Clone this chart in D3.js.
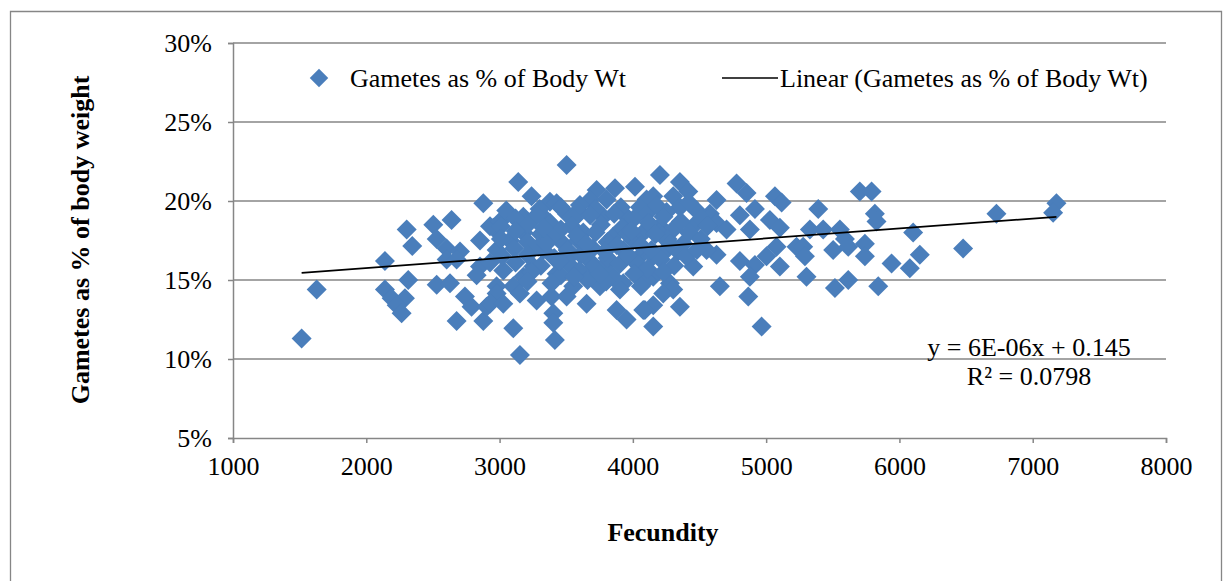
<!DOCTYPE html>
<html><head><meta charset="utf-8">
<script src="https://cdn.jsdelivr.net/npm/d3@7"></script>
<style>
html,body{margin:0;padding:0;background:#fff;}
svg text{font-family:"Liberation Serif","Times New Roman",serif !important;fill:#000;}
</style></head>
<body><svg id="c" width="1224" height="581"></svg>
<script>
// Data: [fecundity, gametes as % of body weight]
const fecundity = [
2878,2303,2503,2640,2528,2345,2603,2703,2853,2953,2140,2603,2678,2853,2828,2978,1628,1515,2140,2315,2528,2628,2190,2290,2228,2265,2740,2790,2678,2878,2903,2978,
3503,3140,3240,3378,3428,3728,3866,4016,3803,4103,3678,3603,2928,3003,3078,2928,3178,3353,3503,3590,3778,3953,4053,4003,4078,3778,3678,3828,3928,3428,3253,3178,3103,2978,2928,3028,3153,3278,3390,3503,3653,3403,3403,3103,3415,3153,3878,3953,4090,3903,3553,3753,3328,3478,3628,3853,3178,3028,3528,3928,4053,
4203,4353,4416,4303,4153,4628,4778,4853,5066,4916,4803,4578,4478,4353,4253,4103,4103,4203,4303,4453,4628,4703,4878,5028,5103,5228,5078,5003,5103,4803,4916,4878,4628,4453,4553,4378,4253,4153,4053,4153,4278,4303,4103,4653,4866,4353,4228,4153,4078,4153,4966,5116,
5703,5791,5391,5816,5828,5328,5428,5553,5591,5278,5291,5503,5616,5741,5741,6103,5941,6078,6153,6478,5303,5516,5616,5841,
6728,7178,7153,
3050,3300,3460,3720,3910,4180,4420,
3120,3280,3560,3680,3860,4010,4230,4520,
3010,3210,3380,3540,3760,3920,4120,4360,4560,
3120,3310,3460,3720,3960,4220,4420,
3010,3210,3390,3590,3810,4060,4260,4510,
3110,3290,3510,3700,3880,4140,4340,
3020,3210,3410,3610,3810,4010,4210,4400,
3120,3310,3520,3700,3900,4110,4310,
3240,3460,3600,3860,4010,4230,
3210,3390,3660,3800,4060,
3350,3580,3790,3990,4280,3450,3650,3960,4170,4480,3330,3560,3750
];
const gametesPct = [
19.86,18.2,18.5,18.8,17.6,17.15,17.0,16.8,17.5,18.3,16.2,16.3,16.3,15.85,15.3,16.9,14.4,11.3,14.4,15.0,14.7,14.8,13.85,13.85,13.4,12.9,13.95,13.3,12.4,12.4,13.3,14.6,
22.28,21.2,20.3,19.96,19.86,20.7,20.8,20.9,20.1,20.1,20.06,19.75,18.4,18.7,17.5,16.1,19.0,18.8,19.2,19.4,19.0,19.0,19.6,17.5,18.0,15.85,16.2,15.4,14.8,15.4,15.85,15.2,14.6,14.15,13.5,13.5,14.15,13.7,13.95,13.95,13.5,12.9,12.3,11.95,11.2,10.25,13.1,12.5,13.1,14.4,14.6,14.6,16.9,17.3,18.0,17.75,18.0,15.6,16.5,16.9,16.5,
21.65,21.2,20.6,20.3,20.3,20.06,21.1,20.5,20.3,19.5,19.1,19.2,19.4,19.6,19.3,19.2,18.2,18.4,18.2,18.4,18.6,18.2,18.2,18.8,18.3,17.1,17.1,16.5,15.85,16.2,15.95,15.2,16.6,15.85,16.9,17.3,16.9,16.5,15.85,15.2,14.8,14.4,15.0,14.6,13.95,13.3,14.15,13.4,13.1,12.05,12.05,19.9,
20.6,20.6,19.5,19.2,18.7,18.2,18.2,18.2,17.6,17.1,16.5,16.9,17.1,17.3,16.5,18.0,16.05,15.75,16.6,17.0,15.2,14.5,15.0,14.6,
19.2,19.85,19.26,
19.4,19.5,19.6,19.5,19.6,19.7,19.9,
18.9,19.1,18.9,19.1,19.2,18.9,19.0,18.9,
18.4,18.5,18.6,18.4,18.5,18.3,18.6,18.7,18.4,
18.1,17.9,18.2,18.0,17.9,17.8,18.0,
17.6,17.4,17.7,17.5,17.4,17.2,17.6,17.6,
17.0,17.1,16.9,17.0,17.2,16.9,16.8,
16.5,16.6,16.4,16.6,16.4,16.2,16.3,16.5,
16.1,15.9,16.0,15.8,16.0,15.7,15.9,
15.5,15.3,15.6,15.1,15.4,15.5,
14.9,14.8,15.0,14.9,14.6,
17.3,17.8,16.8,18.1,17.3,16.2,17.3,16.6,17.9,16.9,18.3,15.2,15.4
];
const xTicks = [1000,2000,3000,4000,5000,6000,7000,8000];
const yTicks = [0.05,0.10,0.15,0.20,0.25,0.30];
const trendSlope = 6.25e-6, trendIntercept = 0.1451;
const seriesName = "Gametes as % of Body Wt";
const trendName = "Linear (Gametes as % of Body Wt)";
const eqText = ["y = 6E-06x + 0.145", "R² = 0.0798"];
const xTitle = "Fecundity", yTitle = "Gametes as % of body weight";

const points = fecundity.map((f,i)=>({x:f, y:gametesPct[i]/100}));
const svg = d3.select("#c");
const L=233, T=43, R=1166, B=438;
const x = d3.scaleLinear().domain([1000,8000]).range([L,R]);
const y = d3.scaleLinear().domain([0.05,0.30]).range([B,T]);
const grey="#868686", blue="#4a7ebb";
const serif = '"Liberation Serif","Times New Roman",serif';

// outer border
svg.append("path").attr("d","M10.5,600 V11.5 H1221.5 V600").attr("fill","none").attr("stroke",grey).attr("stroke-width",1.3);

// gridlines
svg.append("g").selectAll("line").data(yTicks.filter(d=>d>0.05)).join("line")
  .attr("x1",L).attr("x2",R).attr("y1",d=>y(d)).attr("y2",d=>y(d))
  .attr("stroke",grey).attr("stroke-width",1.5);

// axes
const yAxis = d3.axisLeft(y).tickValues(yTicks).tickFormat(d=>Math.round(d*100)+"%").tickSize(5).tickPadding(16);
const gy = svg.append("g").attr("transform",`translate(${L},0)`).call(yAxis);
const xAxis = d3.axisBottom(x).tickValues(xTicks).tickFormat(d3.format("d")).tickSize(5).tickPadding(12);
const gx = svg.append("g").attr("transform",`translate(0,${B})`).call(xAxis);
[gx,gy].forEach(g=>{
  g.attr("font-family",serif).attr("font-size",26);
  g.select(".domain").attr("stroke",grey).attr("stroke-width",1.5);
  g.selectAll(".tick line").attr("stroke",grey).attr("stroke-width",1.5);
  g.selectAll(".tick text").style("font-family",serif).style("font-size","26px").attr("fill","#000");
});
gy.selectAll(".tick text").attr("dy","0.34em");
gx.selectAll(".tick text").attr("dy","0.76em");

// points
const sym = d3.symbol().type(d3.symbolSquare).size(200);
svg.append("g").selectAll("path").data(points).join("path")
  .attr("d",sym)
  .attr("transform",d=>`translate(${x(d.x)},${y(d.y)}) rotate(45)`)
  .attr("fill",blue);

// trendline
const xmin=d3.min(fecundity), xmax=d3.max(fecundity);
svg.append("line")
  .attr("x1",x(xmin)).attr("y1",y(trendSlope*xmin+trendIntercept))
  .attr("x2",x(xmax)).attr("y2",y(trendSlope*xmax+trendIntercept))
  .attr("stroke","#000").attr("stroke-width",1.7);

// equation
svg.append("text").attr("x",1029).attr("y",356).attr("text-anchor","middle").attr("font-size",26).text(eqText[0]);
svg.append("text").attr("x",1029).attr("y",385).attr("text-anchor","middle").attr("font-size",26).text(eqText[1]);

// legend
svg.append("path").attr("d",d3.symbol().type(d3.symbolSquare).size(170)).attr("transform","translate(319,78) rotate(45)").attr("fill",blue);
svg.append("text").attr("x",350).attr("y",87).attr("font-size",26).text(seriesName);
svg.append("line").attr("x1",722).attr("x2",778).attr("y1",78).attr("y2",78).attr("stroke","#000").attr("stroke-width",1.7);
svg.append("text").attr("x",780).attr("y",87).attr("font-size",26).text(trendName);

// titles
svg.append("text").attr("x",663).attr("y",541).attr("text-anchor","middle").attr("font-size",26).attr("font-weight","bold").text(xTitle);
svg.append("text").attr("transform","translate(89,240) rotate(-90)").attr("text-anchor","middle").attr("font-size",26).attr("font-weight","bold").text(yTitle);
</script></body></html>
